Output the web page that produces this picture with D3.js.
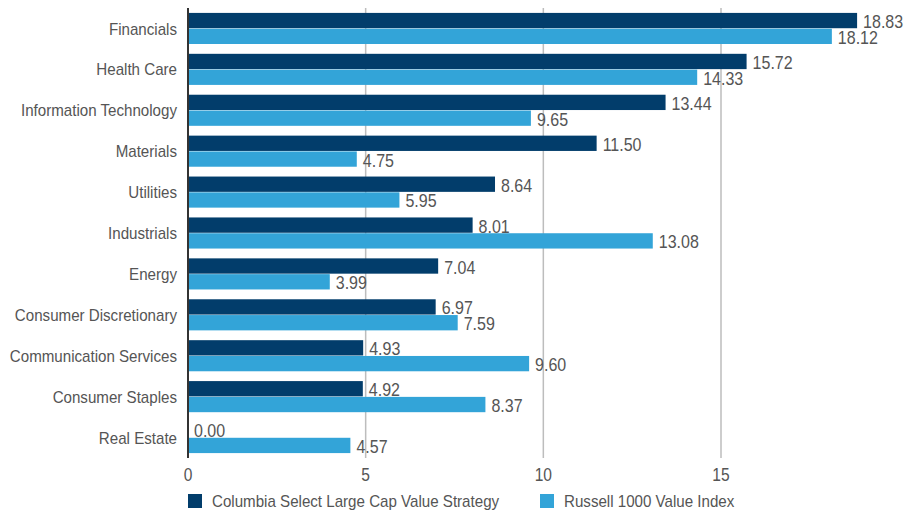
<!DOCTYPE html>
<html><head><meta charset="utf-8">
<script src="https://cdn.jsdelivr.net/npm/d3@7"></script>
<style>body{margin:0;background:#fff}svg{display:block}</style>
</head><body><svg id="c" width="908" height="512"></svg>
<script>
const categories = ["Financials","Health Care","Information Technology","Materials","Utilities","Industrials","Energy","Consumer Discretionary","Communication Services","Consumer Staples","Real Estate"];
const strategyValues = [18.83,15.72,13.44,11.50,8.64,8.01,7.04,6.97,4.93,4.92,0.00];
const indexValues = [18.12,14.33,9.65,4.75,5.95,13.08,3.99,7.59,9.60,8.37,4.57];
const seriesNames = ["Columbia Select Large Cap Value Strategy","Russell 1000 Value Index"];
const xTicks = [0,5,10,15];
const colors = ["#023d6b","#33a4d8"];
const font = "'Liberation Sans',Arial,sans-serif";
const SX = 0.89;

const svg = d3.select("#c");
const m = {l:188, t:8, b:54};
const W = 908, H = 512;
const x = d3.scaleLinear().domain([0,15]).range([m.l, 721]);
const y = d3.scaleBand().domain(categories).range([m.t, H-m.b]).paddingInner(0.24).paddingOuter(0.12);
const y1 = d3.scaleBand().domain([0,1]).range([0, y.bandwidth()]).paddingInner(0.03);

function txt(sel, px, py, s, size, anchor){
  return sel.append("text")
    .attr("transform",`translate(${px},${py}) scale(${SX},1)`)
    .attr("dy","0.36em").attr("text-anchor",anchor||"start")
    .attr("font-family",font).attr("font-size",size).attr("fill","#555").text(s);
}

// gridlines
svg.append("g").selectAll("line").data(xTicks.filter(d=>d>0)).join("line")
  .attr("x1",d=>x(d)).attr("x2",d=>x(d)).attr("y1",m.t).attr("y2",H-m.b)
  .attr("stroke","#bdbdbd").attr("stroke-width",1.5);

const data = categories.map((c,i)=>({c, v:[strategyValues[i], indexValues[i]]}));
const g = svg.append("g");
data.forEach(d=>{
  d.v.forEach((v,j)=>{
    const yy = y(d.c)+y1(j);
    g.append("rect").attr("x",x(0)).attr("y",yy).attr("width",x(v)-x(0)).attr("height",y1.bandwidth()).attr("fill",colors[j]);
    txt(g, x(v)+6, yy+y1.bandwidth()/2+1, v.toFixed(2), 18);
  });
});

// zero axis
svg.append("line").attr("x1",x(0)).attr("x2",x(0)).attr("y1",m.t).attr("y2",H-m.b).attr("stroke","#333").attr("stroke-width",2);

// y labels
const yl = svg.append("g");
categories.forEach(c=>txt(yl, 177, y(c)+y.bandwidth()/2, c, 17, "end"));

// x tick labels
const xl = svg.append("g");
xTicks.forEach(t=>txt(xl, x(t), 475, t, 17.5, "middle"));

// legend
const lx = [188, 540];
seriesNames.forEach((s,j)=>{
  svg.append("rect").attr("x",lx[j]).attr("y",494).attr("width",14).attr("height",14).attr("fill",colors[j]);
  txt(svg, lx[j]+24, 501, s, 17);
});
</script></body></html>
